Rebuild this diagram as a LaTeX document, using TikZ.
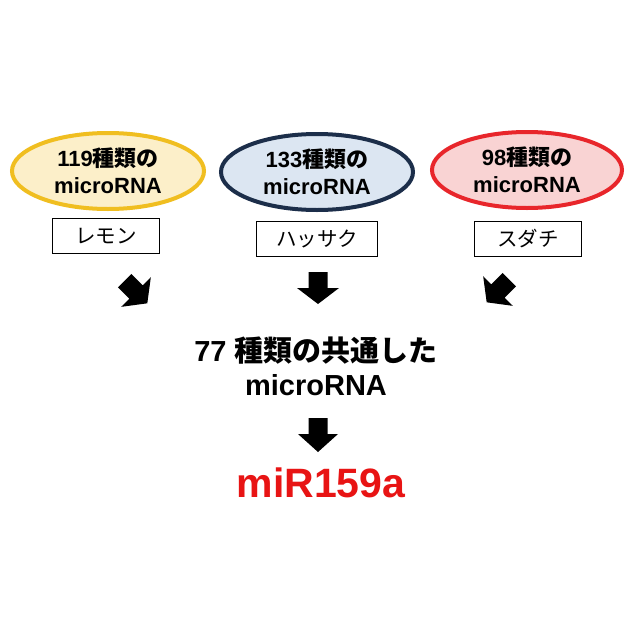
\documentclass[tikz,border=0pt]{standalone}
\usepackage{fontspec}
\setmainfont{Liberation Sans}
\newfontfamily\jp{Noto Sans CJK JP}
\usetikzlibrary{shapes.geometric}
\definecolor{yelline}{HTML}{F0BE20}
\definecolor{yelfill}{HTML}{FCEFC9}
\definecolor{blueline}{HTML}{1C2E4A}
\definecolor{bluefill}{HTML}{DCE6F2}
\definecolor{redline}{HTML}{E8262B}
\definecolor{redfill}{HTML}{F9D3D3}
\definecolor{mirred}{HTML}{E81414}
\tikzset{
  oval/.style={ellipse, line width=4pt, inner sep=0pt, align=center,
    minimum width=#1, minimum height=76pt,
    font=\fontsize{22}{27}\selectfont\bfseries},
  namebox/.style={draw, line width=1.2pt, minimum height=35pt, inner sep=0pt,
    font=\fontsize{20.5}{24}\selectfont\jp},
  blockarrow/.style={fill=black}
}
\begin{document}
\begin{tikzpicture}[x=1pt,y=-1pt]
\useasboundingbox[fill=white] (0,0) rectangle (635,635);
% ellipses
\node[oval=192pt, draw=yelline, fill=yelfill] (lemonE) at (108,171)
  {119{\jp\bfseries 種類の}\\microRNA};
\node[oval=192pt, draw=blueline, fill=bluefill] (hassakuE) at (317,172)
  {133{\jp\bfseries 種類の}\\microRNA};
\node[oval=190pt, draw=redline, fill=redfill] (sudachiE) at (527,170)
  {98{\jp\bfseries 種類の}\\microRNA};
% name boxes
\node[namebox, minimum width=107pt] (lemon) at (106,236) {レモン};
\node[namebox, minimum width=121pt] (hassaku) at (317,239) {ハッサク};
\node[namebox, minimum width=107pt] (sudachi) at (528,239) {スダチ};
% common text
\node[align=center, font=\fontsize{29}{34}\selectfont\bfseries] (common) at (316,366)
  {77 {\jp\bfseries 種類の共通した}\\microRNA};
\node[font=\fontsize{41}{46}\selectfont\bfseries, text=mirred] (mir) at (321,483) {miR159a};
% block arrows
\foreach \cx/\cy/\rot in {136/292/45, 318/288/0, 498/291/-45}{
  \fill[blockarrow, shift={(\cx,\cy)}, rotate=\rot]
    (-9.5,-16) -- (9.5,-16) -- (9.5,0) -- (21,0) -- (0,16) -- (-21,0) -- (-9.5,0) -- cycle;
}
\fill[blockarrow, shift={(318,435)}]
    (-9.5,-17) -- (9.5,-17) -- (9.5,-1) -- (20,-1) -- (0,17) -- (-20,-1) -- (-9.5,-1) -- cycle;
\end{tikzpicture}
\end{document}
